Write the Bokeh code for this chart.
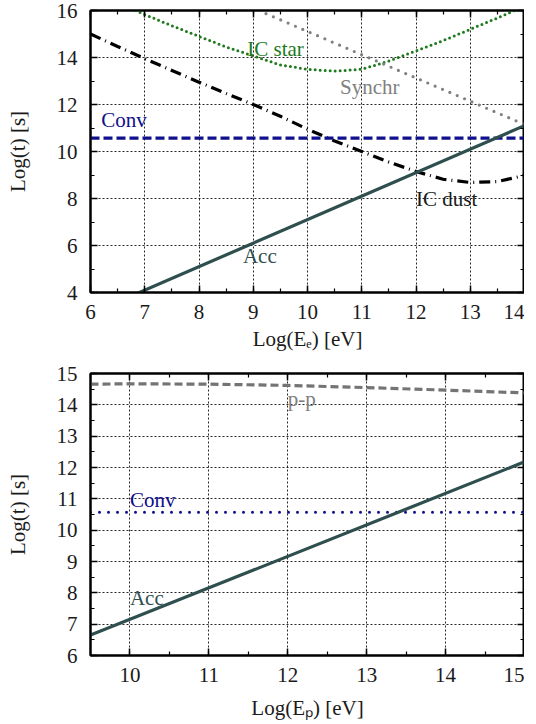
from bokeh.plotting import figure
from bokeh.layouts import column
from bokeh.models import LinearAxis, SingleIntervalTicker, Label, CustomJSTickFormatter
from bokeh.embed import file_html
from bokeh.resources import INLINE

# ---------------- data: electrons (top panel) ----------------
e_acc_x = [6.8, 14.0]
e_acc_y = [3.9, 11.1]

e_conv_x = [6.0, 14.0]
e_conv_y = [10.57, 10.57]

e_synchr_x = [9.1, 14.0]
e_synchr_y = [16.0, 11.15]

e_icstar_x = [6.83, 7.0, 7.5, 8.0, 8.5, 9.0, 9.5, 10.0, 10.5, 11.0, 11.5, 12.0, 12.5, 13.0, 13.5, 13.82]
e_icstar_y = [16.0, 15.83, 15.35, 14.9, 14.45, 14.07, 13.68, 13.5, 13.42, 13.5, 13.85, 14.28, 14.72, 15.2, 15.68, 16.0]

e_icdust_x = [6.0, 6.5, 7.0, 7.5, 8.0, 8.5, 9.0, 9.5, 10.0, 10.5, 11.0, 11.5, 12.0, 12.5, 13.0, 13.5, 14.0]
e_icdust_y = [15.0, 14.47, 13.95, 13.45, 12.95, 12.47, 12.0, 11.5, 10.95, 10.45, 10.0, 9.55, 9.15, 8.82, 8.68, 8.72, 8.98]

# ---------------- data: protons (bottom panel) ----------------
p_acc_x = [9.5, 15.0]
p_acc_y = [6.65, 12.18]

p_conv_x = [9.5, 15.0]
p_conv_y = [10.57, 10.57]

p_pp_x = [9.5, 10.0, 11.0, 12.0, 13.0, 14.0, 15.0]
p_pp_y = [14.66, 14.67, 14.66, 14.62, 14.55, 14.47, 14.38]

# labels: (text, x, y, color)
top_labels = [("IC star", 8.89, 14.36, "#1d7a1d"),
              ("Synchr", 10.6, 12.75, "#808080"),
              ("Conv", 6.2, 11.34, "#10108c"),
              ("IC dust", 12.0, 7.96, "#1a1a1a"),
              ("Acc", 8.81, 5.57, "#2f4f4f")]
bot_labels = [("p-p", 12.0, 14.19, "#808080"),
              ("Conv", 10.0, 10.95, "#10108c"),
              ("Acc", 10.0, 7.85, "#2f4f4f")]

FONT = "Liberation Serif"
GREEN = "#1d7a1d"
NAVY = "#10108c"
SLATE = "#2f4f4f"
GRAY = "#808080"
PPGRAY = "#747474"


def tick_style(ax):
    ax.major_tick_in = 7
    ax.major_tick_out = 0
    ax.minor_tick_in = 4
    ax.minor_tick_out = 0
    ax.axis_line_color = "black"
    ax.axis_line_width = 2
    ax.major_tick_line_width = 1.5
    ax.minor_tick_line_width = 1.2


def style(p, xint, yint, xlabel, ylabel, xlab_standoff):
    p.outline_line_color = "black"
    p.outline_line_width = 2
    for ax in p.xaxis + p.yaxis:
        tick_style(ax)
        ax.major_label_text_font = FONT
        ax.major_label_text_font_size = "21px"
        ax.major_label_text_color = "#1a1a1a"
        ax.axis_label_text_font = FONT
        ax.axis_label_text_font_size = "21px"
        ax.axis_label_text_font_style = "normal"
        ax.axis_label_text_color = "#1a1a1a"
    p.xaxis.ticker = SingleIntervalTicker(interval=xint, num_minor_ticks=2)
    p.yaxis.ticker = SingleIntervalTicker(interval=yint, num_minor_ticks=2)
    p.xaxis.major_label_standoff = 12
    p.yaxis.major_label_standoff = 13
    p.xaxis.axis_label = xlabel
    p.yaxis.axis_label = ylabel
    p.xaxis.axis_label_standoff = xlab_standoff
    p.yaxis.axis_label_standoff = 24
    ax_t = LinearAxis(ticker=SingleIntervalTicker(interval=xint, num_minor_ticks=2))
    ax_r = LinearAxis(ticker=SingleIntervalTicker(interval=yint, num_minor_ticks=2))
    for ax in (ax_t, ax_r):
        tick_style(ax)
        ax.formatter = CustomJSTickFormatter(code="return ''")
        ax.major_label_standoff = 0
        ax.axis_label_standoff = 0
    p.add_layout(ax_t, "above")
    p.add_layout(ax_r, "right")
    p.grid.grid_line_color = "black"
    p.grid.grid_line_dash = "2 2"
    p.grid.grid_line_width = 1
    p.grid.grid_line_alpha = 0.85


def add_labels(p, labels):
    for txt, x, y, c in labels:
        p.add_layout(Label(x=x, y=y, text=txt, text_font=FONT, text_font_size="21px",
                           text_color=c, text_baseline="middle", text_align="left"))


# ---------------- top panel ----------------
p1 = figure(width=524, height=362, x_range=(6, 14), y_range=(4, 16),
            output_backend="svg", toolbar_location=None,
            min_border_left=90, min_border_right=0, min_border_top=10, min_border_bottom=70)
style(p1, 1, 2, "Log(E\u2091) [eV]", "Log(t) [s]", 5)

p1.line(e_icstar_x, e_icstar_y, line_color=GREEN, line_width=3, line_dash="0 5", line_cap="round")
p1.line(e_synchr_x, e_synchr_y, line_color=GRAY, line_width=3.2, line_dash="0 8", line_cap="round")
p1.line(e_icdust_x, e_icdust_y, line_color="black", line_width=3.2, line_dash="11 5 1 5")
p1.line(e_conv_x, e_conv_y, line_color=NAVY, line_width=3.2, line_dash="9 4")
p1.line(e_acc_x, e_acc_y, line_color=SLATE, line_width=3.2)
add_labels(p1, top_labels)

# ---------------- bottom panel ----------------
p2 = figure(width=524, height=362, x_range=(9.5, 15), y_range=(6, 15),
            output_backend="svg", toolbar_location=None,
            min_border_left=90, min_border_right=0, min_border_top=11, min_border_bottom=69)
style(p2, 1, 1, "Log(E\u209a) [eV]", "Log(t) [s]", 11)

p2.line(p_pp_x, p_pp_y, line_color=PPGRAY, line_width=3.2, line_dash="8 4")
p2.line(p_conv_x, p_conv_y, line_color=NAVY, line_width=3, line_dash="0 9", line_cap="round")
p2.line(p_acc_x, p_acc_y, line_color=SLATE, line_width=3.2)
add_labels(p2, bot_labels)

layout = column(p1, p2, spacing=0)
open("out.html", "w").write(file_html(layout, INLINE))
